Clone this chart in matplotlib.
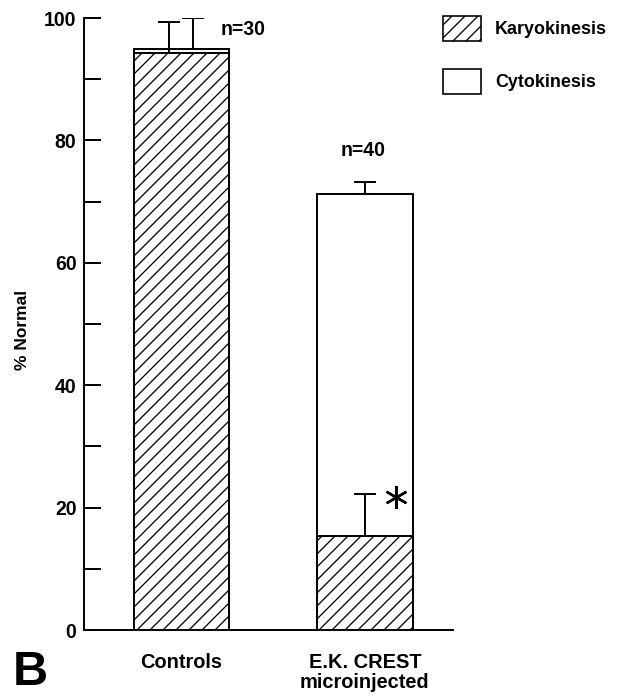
import matplotlib
matplotlib.use("Agg")
from matplotlib import pyplot as plt
from matplotlib.patches import Patch

categories = ["Controls", "E.K. CREST\nmicroinjected"]
karyo = [94.3, 15.4]
karyo_err = [5.0, 6.8]
cyto = [94.9, 71.2]
cyto_err = [5.1, 2.0]
n_labels = ["n=30", "n=40"]

# low dpi so that the hatch spacing matches the scan (~13 px)
DPI = 78
plt.rcParams["font.family"] = ["Liberation Sans", "DejaVu Sans"]
plt.rcParams["font.weight"] = "bold"
plt.rcParams["hatch.linewidth"] = 1.2

fig = plt.figure(figsize=(623 / DPI, 696 / DPI), dpi=DPI)
ax = fig.add_axes([84 / 623, 66 / 696, 369 / 623, 612 / 696])

xs = [0, 1]
width = 0.52
ax.bar(xs, cyto, width, color="white", edgecolor="black", linewidth=1.8, zorder=2)
ax.bar(xs, karyo, width, color="white", edgecolor="black", linewidth=1.8,
       hatch="//", zorder=3)

# controls: two error bars side by side, crest: centred
off = [-0.066, 0.0]
off2 = [0.066, 0.0]
ekw = dict(fmt="none", ecolor="black", elinewidth=1.8, capsize=10, capthick=1.8, zorder=4)
ax.errorbar([x + o for x, o in zip(xs, off)], karyo,
            yerr=[[0, 0], karyo_err], **ekw)
ax.errorbar([x + o for x, o in zip(xs, off2)], cyto,
            yerr=[[0, 0], cyto_err], **ekw)

ax.text(0.335, 98.2, n_labels[0], ha="center", va="center", fontsize=18)
ax.text(0.99, 78.4, n_labels[1], ha="center", va="center", fontsize=18)

# significance mark
ax.plot([1.17], [21.7], marker=(6, 2, 0), markersize=21, markeredgewidth=2.2,
        color="black", zorder=5)

ax.set_xlim(-0.53, 1.48)
ax.set_ylim(0, 100)
ax.set_yticks([0, 20, 40, 60, 80, 100])
ax.set_yticks([10, 30, 50, 70, 90], minor=True)
ax.tick_params(axis="y", which="both", direction="in", length=15.5, width=1.8,
               labelsize=18, pad=7)
ax.set_xticks(xs)
ax.set_xticklabels(categories, fontsize=18.5, linespacing=1.05)
ax.tick_params(axis="x", length=0, pad=21)

for s in ["top", "right"]:
    ax.spines[s].set_visible(False)
for s in ["left", "bottom"]:
    ax.spines[s].set_linewidth(1.8)

ax.set_ylabel("% Normal", fontsize=16, fontweight="bold")
ax.yaxis.set_label_coords(-0.145, 0.49)

handles = [Patch(facecolor="white", edgecolor="black", hatch="//", linewidth=1.5),
           Patch(facecolor="white", edgecolor="black", linewidth=1.5)]
fig.legend(handles, ["Karyokinesis", "Cytokinesis"], loc="upper left",
           bbox_to_anchor=(443 / 623, 1 - 16 / 696), frameon=False,
           fontsize=16.5, handlelength=2.1, handleheight=1.75, labelspacing=1.6,
           handletextpad=0.8, borderpad=0, borderaxespad=0)

fig.text(30 / 623, 11 / 696, "B", ha="center", va="baseline", fontsize=45)

fig.savefig("out.png", dpi=DPI)
